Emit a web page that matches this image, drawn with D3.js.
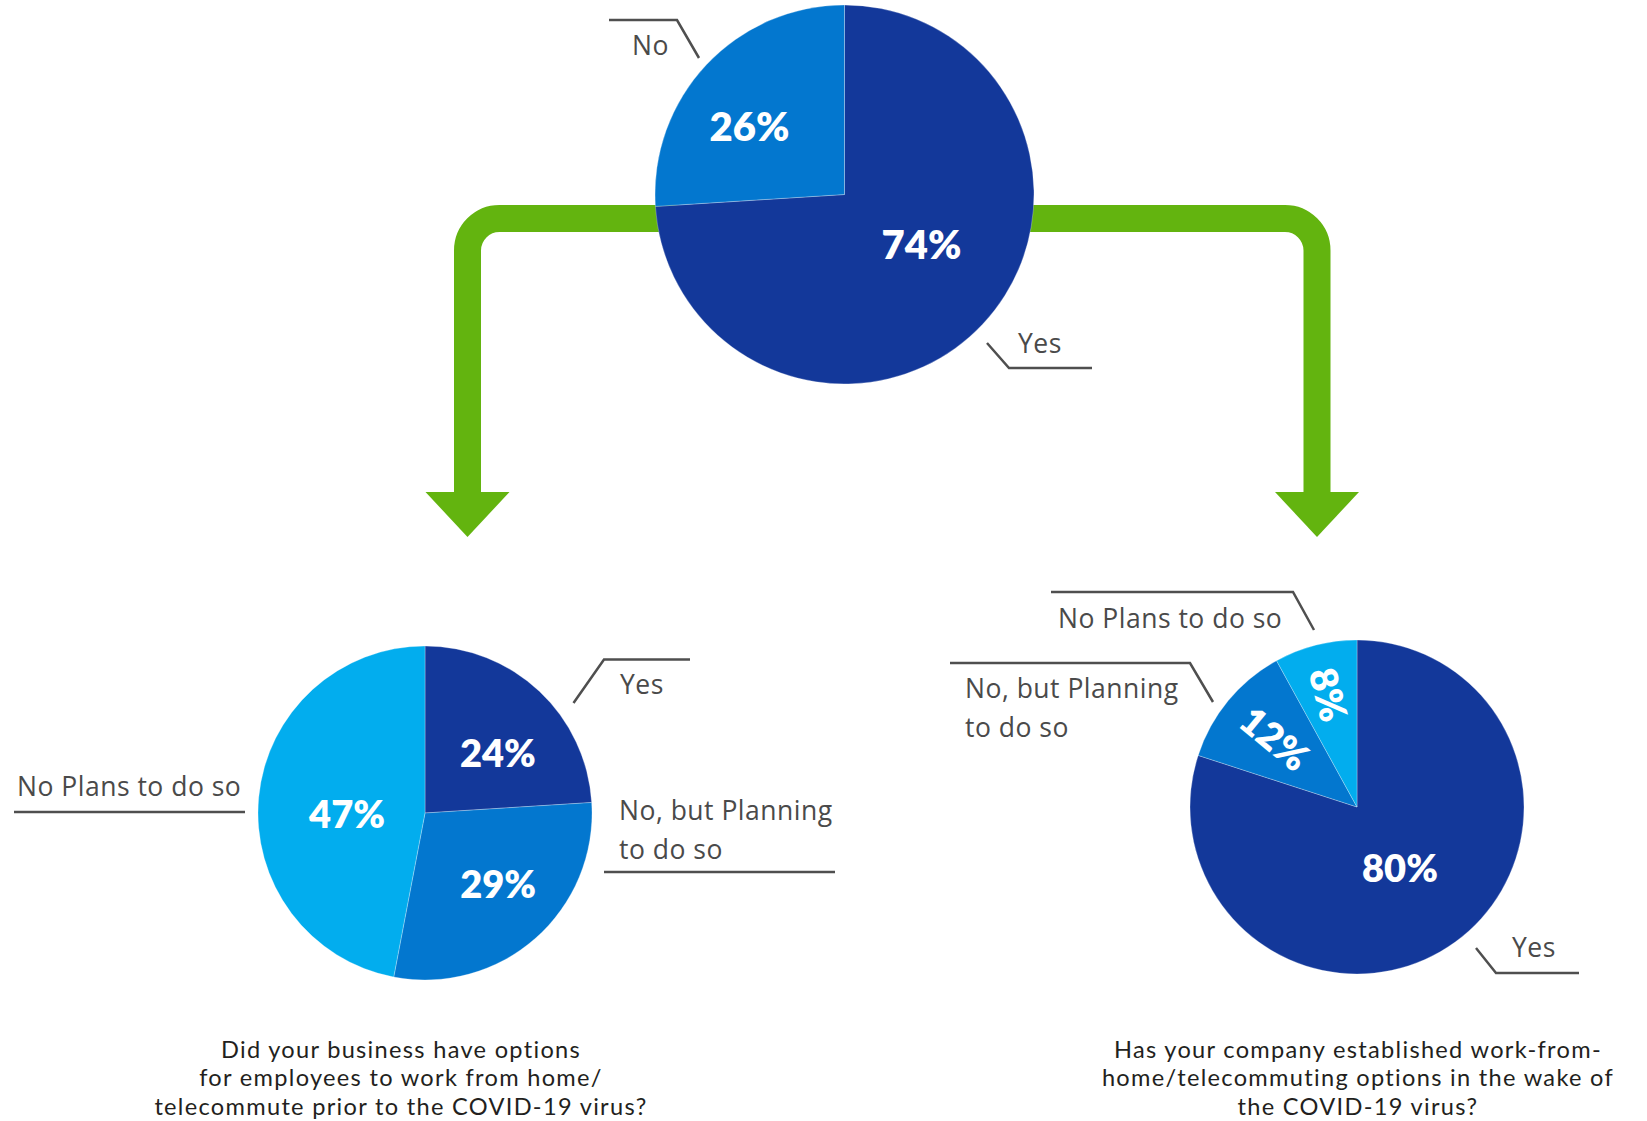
<!DOCTYPE html>
<html>
<head>
<meta charset="utf-8">
<script src="https://cdn.jsdelivr.net/npm/d3@7"></script>
<style>
  html, body { margin: 0; padding: 0; background: #fff; }
  svg { display: block; }
</style>
</head>
<body>
<svg id="chart" width="1647" height="1121"></svg>
<script>
// ---- data ----
const topCategories = ["Yes", "No"];
const topValues = [74, 26];

const leftCategories = ["Yes", "No, but Planning|to do so", "No Plans to do so"];
const leftValues = [24, 29, 47];

const rightCategories = ["Yes", "No, but Planning|to do so", "No Plans to do so"];
const rightValues = [80, 12, 8];

const leftQuestion = ["Did your business have options", "for employees to work from home/", "telecommute prior to the COVID-19 virus?"];
const rightQuestion = ["Has your company established work-from-", "home/telecommuting options in the wake of", "the COVID-19 virus?"];

// ---- styling ----
const colorFor = {
  "Yes": "#13389a",
  "No": "#0377cf",
  "No, but Planning|to do so": "#0377cf",
  "No Plans to do so": "#02adee"
};
const GREEN = "#63b40f";
const LEADER = "#4f4f4f";
const LABEL_FONT = "'Open Sans', Lato, sans-serif";

const svg = d3.select("#chart");

// ---- connector arrows ----
const arrows = svg.append("g");
function drawArrow(fromX, y, x, bottom, dir) {
  const r = 32;
  const p = d3.path();
  p.moveTo(fromX, y);
  p.lineTo(x - dir * r, y);
  p.arcTo(x, y, x, y + r, r);
  p.lineTo(x, bottom);
  arrows.append("path").attr("d", p.toString())
    .attr("fill", "none").attr("stroke", GREEN).attr("stroke-width", 27);
  arrows.append("path")
    .attr("d", `M${x - 42},${bottom - 1}L${x + 42},${bottom - 1}L${x},${bottom + 44}Z`)
    .attr("fill", GREEN);
}
drawArrow(760, 218.5, 467.5, 493, -1);
drawArrow(930, 218.5, 1317, 493, 1);

// ---- pies ----
const pies = [
  {
    cats: topCategories, vals: topValues, cx: 844.5, cy: 194.5, r: 189.5, fs: 40, labelR: 105,
    nudge: [[0.5, -21.5], [-18.5, 3.5]],
    leaders: [
      { pts: [[987, 343], [1009, 368], [1092, 368]], tx: 1018, ty: 353 },
      { pts: [[609, 20], [677, 20], [699, 58]], tx: 632, ty: 55 }
    ]
  },
  {
    cats: leftCategories, vals: leftValues, cx: 425, cy: 813, r: 167, fs: 38, labelR: 100,
    nudge: [[4.5, 13.4], [7, -3.5], [21.6, 10.9]],
    leaders: [
      { pts: [[573.5, 703], [604, 659.5], [690, 659.5]], tx: 620, ty: 694 },
      { pts: [[604, 872], [835, 872]], tx: 619, ty: 820 },
      { pts: [[14, 812], [245, 812]], tx: 17, ty: 796 }
    ]
  },
  {
    cats: rightCategories, vals: rightValues, cx: 1357, cy: 807, r: 167, fs: 38, labelR: 100,
    rotateSmall: true,
    nudge: [[-15.8, -19.4], [-7, -3], [-4, -15]],
    leaders: [
      { pts: [[1476, 948], [1496, 973], [1579, 973]], tx: 1512, ty: 957 },
      { pts: [[950, 663], [1190, 663], [1213, 702]], tx: 965, ty: 698 },
      { pts: [[1051, 592], [1293, 592], [1314, 630]], tx: 1058, ty: 628 }
    ]
  }
];

const pieGen = d3.pie().sort(null).value(d => d);

pies.forEach(P => {
  const g = svg.append("g").attr("transform", `translate(${P.cx},${P.cy})`);
  const arcGen = d3.arc().innerRadius(0).outerRadius(P.r);
  const labelArc = d3.arc().innerRadius(P.labelR).outerRadius(P.labelR);
  const arcs = pieGen(P.vals);

  g.selectAll("path.slice").data(arcs).join("path")
    .attr("class", "slice")
    .attr("d", arcGen)
    .attr("fill", (d, i) => colorFor[P.cats[i]])
    .attr("stroke", "rgba(255,255,255,0.35)")
    .attr("stroke-width", 0.8);

  g.selectAll("text.pct").data(arcs).join("text")
    .attr("class", "pct")
    .attr("transform", (d, i) => {
      const mid = (d.startAngle + d.endAngle) / 2;
      const deg = mid * 180 / Math.PI;
      if (P.rotateSmall && d.value < 15) {
        const rr = d.value < 10 ? 116 : 107;
        const x = rr * Math.sin(mid), y = -rr * Math.cos(mid);
        return `translate(${x},${y}) rotate(${deg - 270})`;
      }
      const [x, y] = labelArc.centroid(d);
      return `translate(${x + P.nudge[i][0]},${y + P.nudge[i][1]})`;
    })
    .attr("dy", "0.36em")
    .attr("text-anchor", "middle")
    .attr("font-family", "Lato, sans-serif")
    .attr("font-weight", 800)
    .attr("font-size", P.fs)
    .attr("fill", "#fff")
    .text(d => d.value + "%");

  // category labels with leader lines
  P.leaders.forEach((L, i) => {
    svg.append("path")
      .attr("d", d3.line()(L.pts))
      .attr("fill", "none").attr("stroke", LEADER).attr("stroke-width", 2.5);
    const lines = P.cats[i].split("|");
    const t = svg.append("text")
      .attr("x", L.tx).attr("y", L.ty)
      .attr("font-family", LABEL_FONT)
      .attr("font-size", 26.5)
      .attr("letter-spacing", 0.5)
      .attr("fill", "#4a4a4a");
    lines.forEach((s, k) => t.append("tspan").attr("x", L.tx).attr("dy", k ? 39 : 0).text(s));
  });
});

// ---- question captions (tight leading, so a compact-ascent face) ----
function caption(lines, cx) {
  const g = svg.append("g")
    .attr("font-family", "Lato, sans-serif")
    .attr("font-size", 23.6)
    .attr("letter-spacing", 1.3)
    .attr("fill", "#231f20");
  lines.forEach((s, k) => g.append("text")
    .attr("text-anchor", "middle")
    .attr("x", cx).attr("y", 1057.5 + k * 28.7).text(s));
}
caption(leftQuestion, 401);
caption(rightQuestion, 1358);
</script>
</body>
</html>
